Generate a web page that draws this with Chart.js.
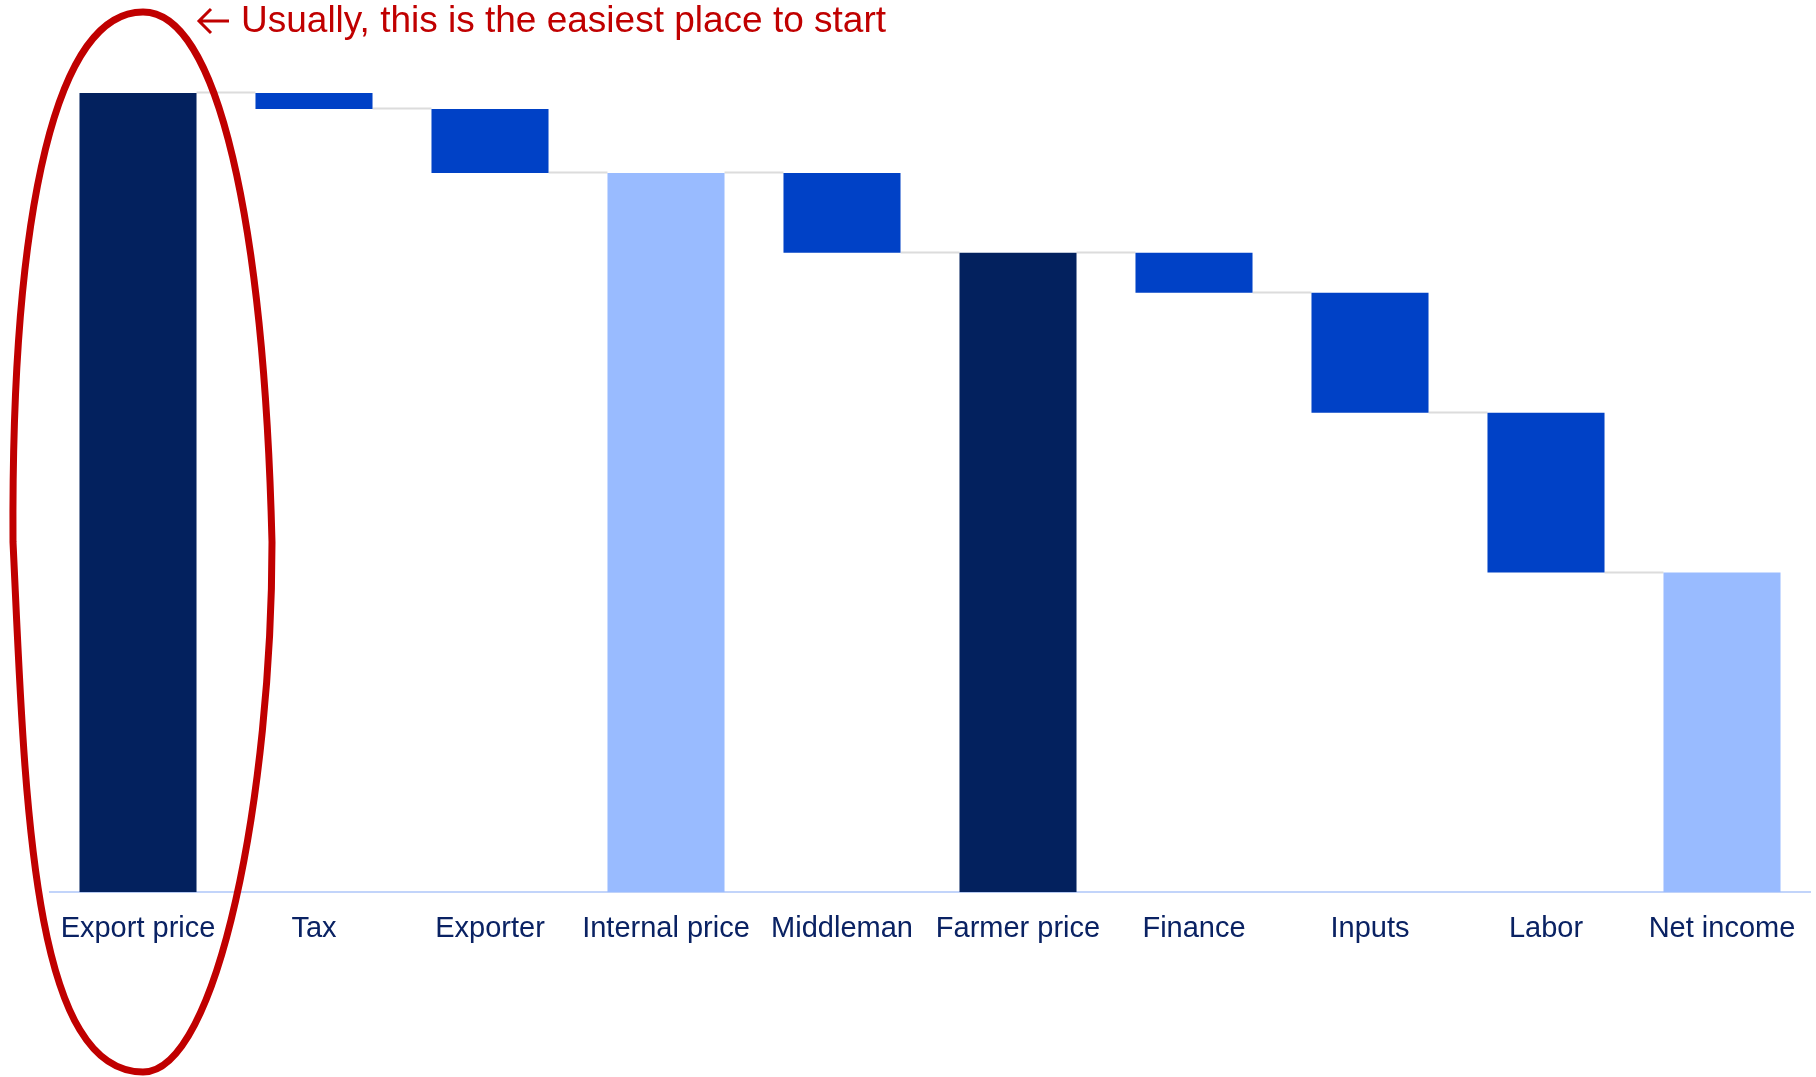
<!DOCTYPE html>
<html>
<head>
<meta charset="utf-8">
<script src="https://cdn.jsdelivr.net/npm/chart.js@4"></script>
<style>
  html, body { margin: 0; padding: 0; background: #fff; }
  #wrap { width: 1816px; height: 1077px; position: relative; }
</style>
</head>
<body>
<div id="wrap"><canvas id="chart"></canvas></div>
<script>
const canvas = document.getElementById('chart');
const ctx = canvas.getContext('2d');

// waterfall data
const categories = ['Export price', 'Tax', 'Exporter', 'Internal price', 'Middleman',
  'Farmer price', 'Finance', 'Inputs', 'Labor', 'Net income'];
const amounts = [100, 2, 8, 90, 10, 80, 5, 15, 20, 40];
// 'total' bars stand on the axis, 'delta' bars hang from the previous level
const kinds = ['total', 'delta', 'delta', 'total', 'delta', 'total', 'delta', 'delta', 'delta', 'total'];
const totalShade = ['dark', null, null, 'light', null, 'dark', null, null, null, 'light'];

const navy = '#03215e';
const deltaBlue = '#0041c6';
const lightBlue = '#99bbff';
const labelColor = '#0a2263';
const noteRed = '#c00000';

// build floating bars and the level after each bar
const ranges = [];
const levels = [];
let level = 0;
for (let i = 0; i < amounts.length; i++) {
  if (kinds[i] === 'total') {
    ranges.push([0, amounts[i]]);
    level = amounts[i];
  } else {
    ranges.push([level - amounts[i], level]);
    level = level - amounts[i];
  }
  levels.push(level);
}
const colors = kinds.map(function(k, i) {
  if (k === 'delta') return deltaBlue;
  return totalShade[i] === 'dark' ? navy : lightBlue;
});

// thin grey steps between bars
const connectors = {
  id: 'connectors',
  beforeDatasetsDraw(chart) {
    const meta = chart.getDatasetMeta(0);
    const y = chart.scales.y;
    const c = chart.ctx;
    c.save();
    c.strokeStyle = '#dcdcdc';
    c.lineWidth = 2;
    for (let i = 0; i < meta.data.length - 1; i++) {
      const a = meta.data[i];
      const b = meta.data[i + 1];
      const py = Math.round(y.getPixelForValue(levels[i])) - 0.5;
      c.beginPath();
      c.moveTo(a.x + a.width / 2, py);
      c.lineTo(b.x - b.width / 2, py);
      c.stroke();
    }
    c.restore();
  }
};

// red loop around the first bar plus the note
const callout = {
  id: 'callout',
  afterDraw(chart) {
    const c = chart.ctx;
    const x = chart.scales.x;
    const cx = x.getPixelForValue(0) + 5;
    const top = 12, bottom = 1072, mid = 542;
    const left = 13, right = 272;
    c.save();
    c.strokeStyle = noteRed;
    c.lineWidth = 7;
    c.lineJoin = 'miter';
    c.beginPath();
    c.moveTo(cx, top);
    c.bezierCurveTo(cx - 85, top, left - 2, mid - 340, left, mid);
    c.bezierCurveTo(left + 12, mid + 250, 30, bottom, cx, bottom);
    c.bezierCurveTo(cx + 75, bottom, right, mid + 250, right, mid);
    c.bezierCurveTo(right - 8, mid - 320, cx + 75, top, cx, top);
    c.closePath();
    c.stroke();

    // left arrow
    const ay = 21;
    c.lineWidth = 3;
    c.lineCap = 'butt';
    c.beginPath();
    c.moveTo(200, ay);
    c.lineTo(229, ay);
    c.moveTo(211, ay - 12);
    c.lineTo(199, ay);
    c.lineTo(211, ay + 12);
    c.stroke();

    c.fillStyle = noteRed;
    c.font = '37px "Liberation Sans", Arial, sans-serif';
    c.textBaseline = 'middle';
    c.textAlign = 'left';
    c.fillText('Usually, this is the easiest place to start', 241, 22);

    // clipped page number in the corner
    c.fillStyle = navy;
    c.font = '20px "Liberation Sans", Arial, sans-serif';
    c.fillText('2', 1809, 1087);
    c.restore();
  }
};

new Chart(ctx, {
  type: 'bar',
  data: {
    labels: categories,
    datasets: [{
      data: ranges,
      backgroundColor: colors,
      borderWidth: 0,
      categoryPercentage: 1,
      barPercentage: 0.665
    }]
  },
  options: {
    responsive: true,
    maintainAspectRatio: false,
    animation: false,
    layout: { padding: { left: 50, right: 6, top: 93, bottom: 112 } },
    plugins: {
      legend: { display: false },
      tooltip: { enabled: false }
    },
    scales: {
      x: {
        grid: { display: false, drawTicks: false },
        border: { display: true, color: '#c2d4fa', width: 2 },
        ticks: {
          color: labelColor,
          padding: 19,
          maxRotation: 0,
          autoSkip: false,
          font: { family: '"Liberation Sans", Arial, sans-serif', size: 29 }
        }
      },
      y: {
        display: false,
        min: 0,
        max: 100
      }
    }
  },
  plugins: [connectors, callout]
});
</script>
</body>
</html>
